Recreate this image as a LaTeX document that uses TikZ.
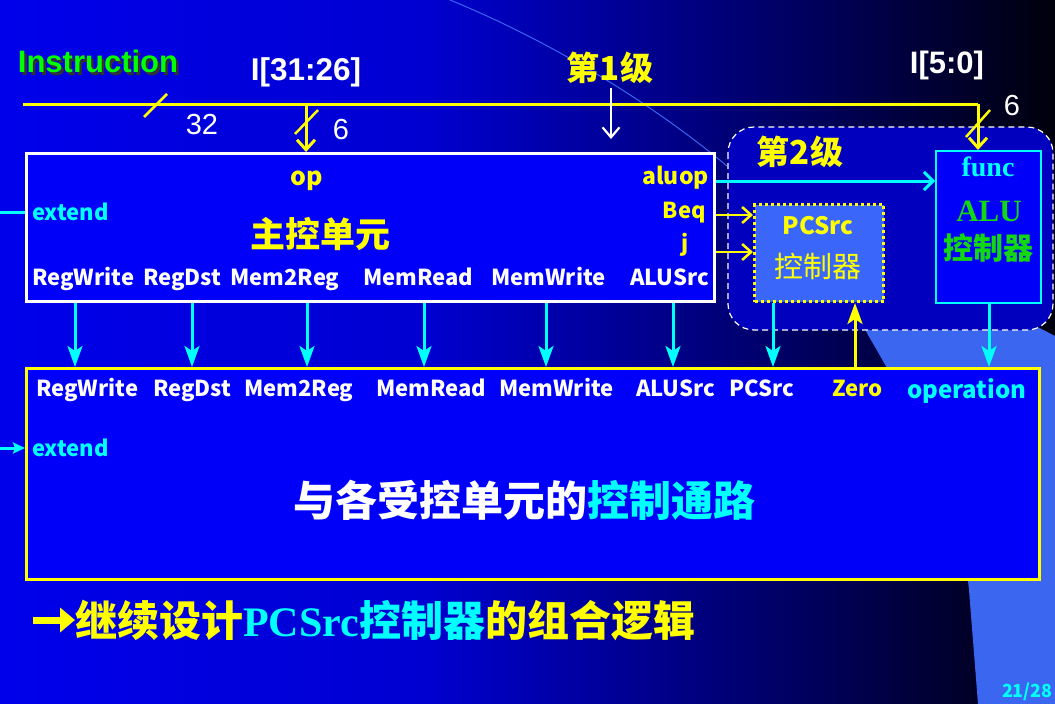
\documentclass[tikz,border=0pt]{standalone}
\usepackage{fontspec}
\setmainfont{Noto Sans CJK SC}
\newfontfamily\lsans{Liberation Sans}
\newfontfamily\lserif{Liberation Serif}
\usetikzlibrary{arrows.meta}

\definecolor{boxblue}{RGB}{0,0,250}
\definecolor{ylw}{RGB}{255,255,0}
\definecolor{cyn}{RGB}{0,255,255}
\definecolor{grn}{RGB}{0,255,0}
\definecolor{alugrn}{RGB}{20,215,20}
\definecolor{band}{RGB}{58,102,240}
\definecolor{pcfill}{RGB}{58,102,250}
\definecolor{stagefill}{RGB}{0,0,190}

% slide background: bright blue on the left, fading to navy on the right
\pgfdeclarehorizontalshading{slidebg}{100bp}{rgb(0bp)=(0,0,0.92); rgb(25bp)=(0,0,0.92);
  rgb(45bp)=(0,0,0.82); rgb(60bp)=(0,0,0.45); rgb(75bp)=(0,0,0.05); rgb(100bp)=(0,0,0.05)}

\newcommand\fsz[1]{\fontsize{#1}{#1}\selectfont}

\tikzset{
  bus/.style={draw=ylw, line width=3pt},
  sigtip/.style={-{Stealth[length=21pt,width=15pt,inset=5pt]}},
  sig/.style={draw=cyn, line width=3pt, sigtip},
  sigv/.style={draw=cyn, line width=3pt, -{Straight Barb[length=9pt,width=18pt]}},
  ysig/.style={draw=ylw, line width=2.5pt, -{Straight Barb[length=9pt,width=16pt]}},
  lbl/.style={inner sep=0pt, font=\bfseries\fsz{22}},
  wl/.style={lbl, text=white, anchor=base west},
  blk/.style={inner sep=0pt, anchor=north west},
}

\begin{document}
\begin{tikzpicture}[x=1pt,y=-1pt]
\useasboundingbox (0,0) rectangle (1055,704);
\shade[shading=slidebg] (0,0) rectangle (1055,704);

% decorative light band of the slide design
\fill[band] (727,166) .. controls (800,225) and (845,285) .. (868,335)
  .. controls (930,440) and (962,520) .. (969,590) -- (978,704)
  -- (1055,704) -- (1055,336) -- cycle;
\draw[band, line width=1pt] (450,0) .. controls (560,45) and (660,110) .. (727,166);

% stage-2 group
\draw[white, line width=1.2pt, dash pattern=on 6pt off 4pt, fill=stagefill, rounded corners=26pt]
  (728,127) rectangle (1053,330);

% blocks
\node[blk, draw=white, line width=3pt, fill=boxblue, minimum width=688pt, minimum height=148pt] (mcu) at (25,152) {};
\node[blk, draw=ylw, line width=3pt, fill=boxblue, minimum width=1013pt, minimum height=211pt] (low) at (25,367) {};
\node[blk, draw=ylw, line width=3pt, dash pattern=on 3pt off 3pt, fill=pcfill, minimum width=129pt, minimum height=97pt] (pcs) at (753,203) {};
\node[blk, draw=cyn, line width=1.5pt, fill=boxblue, minimum width=105pt, minimum height=152pt] (alu) at (935,150) {};

% top labels (the title word carries a drop shadow)
\node[inner sep=0pt, text=grn, font=\lsans\bfseries\fsz{31}] (instr) at (98,63)
  {\rlap{\hspace{2.5pt}\raisebox{-2.5pt}{\textcolor{black!80}{Instruction}}}Instruction};
\node[inner sep=0pt, text=white, font=\lsans\bfseries\fsz{31.5}] (hi) at (306,72) {I[31:26]};
\node[inner sep=0pt, text=ylw, font=\bfseries\fsz{33}] (st1) at (610,68) {第1级};
\node[inner sep=0pt, text=white, font=\lsans\bfseries\fsz{31}] (lo) at (947,65) {I[5:0]};
\node[inner sep=0pt, text=white, font=\lsans\fsz{29}] (w32) at (202,125) {32};
\node[inner sep=0pt, text=white, font=\lsans\fsz{29}] (w6a) at (341,130) {6};
\node[inner sep=0pt, text=white, font=\lsans\fsz{29}] (w6b) at (1012,106) {6};
\node[inner sep=0pt, text=ylw, font=\bfseries\fsz{33}] (st2) at (800,152) {第2级};

% instruction bus
\coordinate (busL) at (23,104);
\coordinate (busR) at (978,104);
\coordinate (opTap) at (306,104);
\draw[bus] (busL) -- (busR);
\draw[bus, -{Straight Barb[length=10pt,width=18pt]}] (busR) -- (busR |- alu.north);
\draw[bus, -{Straight Barb[length=10pt,width=18pt]}] (opTap) -- (opTap |- mcu.north);
\draw[draw=ylw, line width=2.5pt] (144,117) -- (167,94);
\draw[draw=ylw, line width=2.5pt] (295,134) -- (318,110);
\draw[draw=ylw, line width=2.5pt] (966,137) -- (990,110);
\draw[white, line width=2.2pt, -{Straight Barb[length=10pt,width=17pt]}] (611,88) -- (611,139);

% main control unit contents
\node[lbl, text=ylw, font=\bfseries\fsz{25}] (op) at (307,181) {op};
\node[inner sep=0pt, text=ylw, font=\bfseries\fsz{35}] (mcuname) at (320,234) {主控单元};
\node[lbl, text=cyn, anchor=west] (extA) at (32,212) {extend};
\node[lbl, text=ylw, anchor=east, font=\bfseries\fsz{23}] (aluop) at (709,178) {aluop};
\node[lbl, text=ylw, anchor=east] (beq) at (706,213) {Beq};
\node[lbl, text=ylw, anchor=east] (jj) at (689,245) {j};
\node[wl] (uRW) at (32,285) {RegWrite};
\node[wl] (uRD) at (143,285) {RegDst};
\node[wl] (uMR) at (230,285) {Mem2Reg};
\node[wl] (uRd) at (363,285) {MemRead};
\node[wl] (uWr) at (491,285) {MemWrite};
\node[wl] (uAS) at (630,285) {ALUSrc};

% PCSrc and ALU controllers
\node[inner sep=0pt, text=ylw, font=\bfseries\fsz{24}] (pcsA) at (818,226) {PCSrc};
\node[inner sep=0pt, text=ylw, font=\fsz{29}] (pcsB) at (818,266) {控制器};
\node[inner sep=0pt, text=cyn, font=\lserif\bfseries\fsz{28}] (func) at (988,167) {func};
\node[inner sep=0pt, text=alugrn, font=\lserif\bfseries\fsz{31}] (aluA) at (989,211) {ALU};
\node[inner sep=0pt, text=alugrn, font=\bfseries\fsz{30}] (aluB) at (988,248) {控制器};

% datapath block contents
\node[wl] (dRW) at (36,396) {RegWrite};
\node[wl] (dRD) at (153,396) {RegDst};
\node[wl] (dMR) at (244,396) {Mem2Reg};
\node[wl] (dRd) at (376,396) {MemRead};
\node[wl] (dWr) at (499,396) {MemWrite};
\node[wl] (dAS) at (636,396) {ALUSrc};
\node[wl] (dPC) at (729,396) {PCSrc};
\node[wl, text=ylw] (zero) at (832,396) {Zero};
\node[wl, text=cyn, font=\bfseries\fsz{24}] (oper) at (907,398) {operation};
\node[lbl, text=cyn, anchor=west] (extB) at (32,448) {extend};
\node[inner sep=0pt, font=\bfseries\fsz{42}] (path) at (524,500)
  {\textcolor{white}{与各受控单元的}\textcolor{cyn}{控制通路}};

% control signals into the datapath
\foreach \name/\x in {c1/75, c2/192, c3/307, c4/424, c5/546, c6/673}
  \coordinate (\name) at (\x,0);
\foreach \name in {c1,c2,c3,c4,c5,c6}
  \draw[sig] (mcu.south -| \name) -- (low.north -| \name);
\coordinate (c7) at (773,0);
\coordinate (c8) at (989,0);
\coordinate (cz) at (855,0);
\draw[sig] (pcs.south -| c7) -- (low.north -| c7);
\draw[sig] (alu.south -| c8) -- (low.north -| c8);
\draw[draw=ylw, line width=3pt, sigtip] (low.north -| cz) -- (pcs.south -| cz);

\coordinate (ya) at (0,181);
\coordinate (yb) at (0,215);
\coordinate (yj) at (0,252);
\draw[sigv] (mcu.east |- ya) -- (alu.west |- ya);
\draw[ysig] (mcu.east |- yb) -- (pcs.west |- yb);
\draw[ysig] (mcu.east |- yj) -- (pcs.west |- yj);

\coordinate (xa) at (0,212);
\coordinate (xb) at (0,448);
\draw[draw=cyn, line width=3pt] (xa) -- (mcu.west |- xa);
\draw[draw=cyn, line width=3pt, -{Stealth[length=12pt,width=11pt,inset=2pt]}] (xb) -- (low.west |- xb);

% closing remark with its leading arrow, and page number
\node[inner sep=0pt, anchor=west, font=\bfseries\fsz{42}] (note) at (75,620)
  {\textcolor{ylw}{继续设计}\textcolor{cyn}{{\lserif PCSrc}控制器}\textcolor{ylw}{的组合逻辑}};
\coordinate (arrL) at (33,620);
\draw[draw=ylw, line width=7pt, -{Triangle[length=15pt,width=24pt]}] (arrL) -- (note.west);
\node[inner sep=0pt, anchor=east, text=cyn, font=\bfseries\fsz{18}] (pg) at (1053,692) {21/28};
\end{tikzpicture}
\end{document}
